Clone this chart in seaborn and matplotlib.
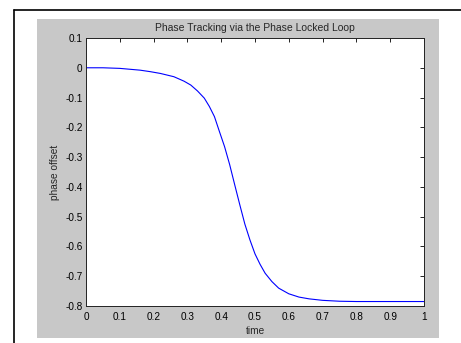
import matplotlib
matplotlib.use("Agg")
import matplotlib.pyplot as plt
from matplotlib.patches import Rectangle
from matplotlib.lines import Line2D
import seaborn as sns
import pandas as pd

time = [0.00, 0.05, 0.10, 0.13, 0.16, 0.19, 0.22, 0.26, 0.29, 0.31, 0.33, 0.35,
        0.365, 0.38, 0.395, 0.41, 0.425, 0.44, 0.455, 0.47, 0.485, 0.50, 0.515,
        0.53, 0.55, 0.57, 0.60, 0.63, 0.66, 0.70, 0.75, 0.80, 0.90, 1.00]
phase_offset = [0.000, -0.000, -0.002, -0.005, -0.008, -0.013, -0.019, -0.030,
                -0.045, -0.058, -0.078, -0.102, -0.130, -0.164, -0.215, -0.265,
                -0.325, -0.393, -0.460, -0.525, -0.578, -0.625, -0.660, -0.690,
                -0.718, -0.740, -0.759, -0.770, -0.776, -0.781, -0.784, -0.785,
                -0.785, -0.785]
xticks = [0, 0.1, 0.2, 0.3, 0.4, 0.5, 0.6, 0.7, 0.8, 0.9, 1]
xticklabels = ["0", "0.1", "0.2", "0.3", "0.4", "0.5", "0.6", "0.7", "0.8", "0.9", "1"]
yticks = [0.1, 0, -0.1, -0.2, -0.3, -0.4, -0.5, -0.6, -0.7, -0.8]
yticklabels = ["0.1", "0", "-0.1", "-0.2", "-0.3", "-0.4", "-0.5", "-0.6", "-0.7", "-0.8"]

sns.set_style("white")
plt.rcParams['font.family'] = ['Liberation Sans', 'DejaVu Sans']

W, H = 461, 343
fig = plt.figure(figsize=(W / 100, H / 100), dpi=100, facecolor="white")

# gray panel
fig.patches.append(Rectangle((37 / W, (H - 338) / H), (439 - 37) / W, (338 - 19) / H,
                             transform=fig.transFigure, facecolor="#c8c8c8",
                             edgecolor="none", zorder=-5))
# black frame lines
fig.lines.append(Line2D([13.5 / W, 13.5 / W], [0, (H - 9.5) / H], transform=fig.transFigure,
                        color="black", lw=1.2, zorder=-4))
fig.lines.append(Line2D([13.5 / W, 1], [(H - 9.5) / H, (H - 9.5) / H], transform=fig.transFigure,
                        color="black", lw=1.2, zorder=-4))

ax = fig.add_axes([86 / W, (H - 306) / H, 338 / W, 268 / H])
ax.set_zorder(5)
ax.set_facecolor("white")
df = pd.DataFrame({"time": time, "phase offset": phase_offset})
sns.lineplot(data=df, x="time", y="phase offset", ax=ax, color="#0000ff", lw=0.8)

ax.set_xlim(0, 1)
ax.set_ylim(-0.8, 0.1)
ax.set_xticks(xticks)
ax.set_xticklabels(xticklabels)
ax.set_yticks(yticks)
ax.set_yticklabels(yticklabels)
ax.tick_params(direction="in", top=True, right=True, length=3, width=0.6,
               labelsize=7.2, colors="black")
ax.tick_params(axis="x", pad=4)
ax.tick_params(axis="y", pad=2.5)
for s in ax.spines.values():
    s.set_color("#222222")
    s.set_linewidth(0.7)
ax.set_xlabel("time", fontsize=7.3, labelpad=3)
ax.set_ylabel("phase offset", fontsize=7.3, labelpad=3.5)
ax.set_title("Phase Tracking via the Phase Locked Loop", fontsize=7.5, pad=5)

fig.savefig("out.png", dpi=100, facecolor="white")
